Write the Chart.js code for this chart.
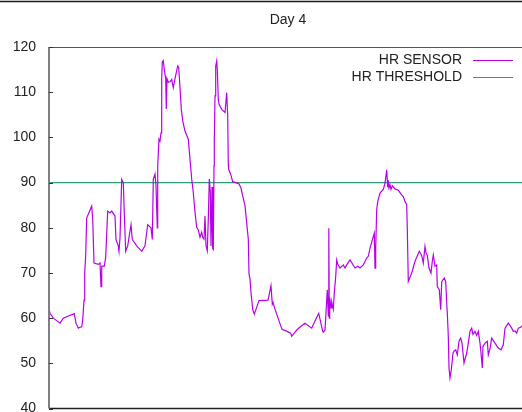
<!DOCTYPE html>
<html>
<head>
<meta charset="utf-8">
<title>Day 4</title>
<script src="https://cdn.jsdelivr.net/npm/chart.js@4/dist/chart.umd.min.js"></script>
<style>
  html, body { margin: 0; padding: 0; background: #fff; overflow: hidden; }
  #wrap { position: relative; width: 560px; height: 430px; }
</style>
</head>
<body>
<div id="wrap"><canvas id="c" width="560" height="430"></canvas></div>
<script>
// Heart-rate trace for day 4 (time in sample units, beats per minute)
const time = [
  0, 1, 4.3, 11, 14.3, 19.3, 25.3, 27, 29.3, 31, 32.7, 33.7, 35, 35.7, 36.7, 37.7, 39.3, 42.7, 43.7, 45,
  49.3, 51, 52, 52.7, 55.3, 56.7, 58.7, 61, 62.7, 66, 67, 69.3, 70, 71, 72.7, 74.3, 75.3, 76.7, 78.7, 82,
  83.3, 87.7, 92.7, 96, 98.7, 102, 103.3, 104.3, 106, 107, 108.3, 108.7, 110, 111, 112, 112.7, 113.3, 114.3, 115.3, 116.7,
  117.3, 118, 119.3, 121, 122.7, 124.3, 126, 128.7, 129.7, 131, 132.3, 134, 136, 139.3, 141, 142.7, 144.3, 146, 147.7, 149.3,
  151, 152.7, 153.7, 155, 156, 157, 158.3, 159.3, 160.3, 161.3, 162, 163, 163.7, 164, 164.3, 165, 165.3, 166, 166.7, 167.7,
  168.3, 169.3, 170, 172.7, 176, 177.7, 178.7, 179.3, 179.6, 181.7, 183.7, 186.7, 190, 192, 193.3, 196, 199.3, 200, 201, 202,
  203.7, 205.3, 207.7, 210, 219, 222, 223.3, 224, 226, 232.7, 233.3, 236, 241.7, 242.7, 246, 248.3, 252, 256, 262.7, 266.7,
  269.7, 273.7, 274.3, 276, 278.3, 279.3, 279.8, 280.3, 280.7, 282, 282.7, 284.3, 285.3, 286.7, 287.7, 288.7, 291, 294.3, 296, 297.7,
  301, 306, 308.7, 311, 314.3, 317.7, 319.3, 321, 325.3, 326, 326.7, 327.7, 328.7, 331, 334.3, 336, 337.7, 338.7, 339.3, 340,
  341, 342, 343.3, 346, 349.3, 352.7, 354.3, 356, 357.7, 358.3, 359.3, 362.7, 366, 370.3, 372.7, 374.3, 376, 377, 378.3, 380,
  382, 383.3, 384.3, 386, 387.7, 388.3, 390.3, 391.7, 392.7, 395.3, 396.7, 397.7, 398.3, 399.3, 400, 401, 402.3, 404, 405, 406.7,
  408.3, 410, 411.7, 413, 415, 417.7, 419.3, 421, 422.7, 424, 426, 427.7, 429.3, 431, 432, 433.3, 434, 436, 438.3, 439.3,
  441, 442.7, 446, 449.3, 452, 454.3, 456, 459.3, 462.7, 464.3, 466, 467.7, 469.3, 471.7, 473, 476, 481
];
const hr = [
  62.2, 61.1, 60.0, 58.9, 60.0, 60.5, 61.0, 58.9, 57.8, 58.0, 58.1, 59.6, 64.0, 70.0, 74.0, 82.2, 83.0, 84.8, 82.0, 72.2,
  71.9, 72.2, 67.0, 71.5, 71.5, 73.5, 83.7, 83.3, 83.7, 82.6, 77.4, 76.0, 74.8, 77.8, 90.7, 90.0, 83.0, 74.8, 76.0, 80.7,
  77.4, 76.0, 74.8, 76.0, 80.7, 80.0, 77.4, 90.7, 91.9, 89.3, 80.0, 93.7, 99.6, 99.2, 101.0, 113.0, 116.7, 117.0, 115.0, 113.0,
  106.3, 113.0, 112.2, 112.3, 112.8, 111.0, 113.0, 115.8, 115.5, 111.0, 106.2, 103.3, 101.4, 99.6, 95.2, 90.8, 87.8, 83.4, 80.1, 79.5,
  77.9, 79.0, 77.9, 77.5, 82.6, 76.0, 74.9, 82.0, 90.8, 88.0, 76.0, 89.0, 75.3, 80.0, 75.0, 93.7, 98.9, 109.2, 115.8, 116.9,
  115.0, 108.4, 107.3, 106.2, 105.5, 109.9, 104.8, 94.1, 93.0, 91.8, 90.2, 90.0, 89.7, 88.8, 87.4, 84.9, 77.5, 69.8, 68.7, 65.7,
  62.0, 60.9, 62.4, 63.9, 64.0, 67.2, 63.1, 63.5, 62.0, 57.7, 57.5, 57.3, 56.7, 56.0, 56.9, 57.5, 58.2, 58.9, 57.8, 59.7,
  61.1, 57.1, 56.9, 57.4, 66.3, 60.5, 79.9, 60.0, 64.5, 62.3, 63.6, 62.0, 65.6, 69.2, 72.9, 72.0, 71.1, 71.8, 71.1, 71.8,
  72.9, 71.1, 71.5, 71.1, 71.8, 73.3, 73.7, 75.5, 78.8, 71.1, 75.5, 84.0, 85.8, 87.7, 88.5, 89.9, 92.8, 89.0, 90.5, 88.8,
  89.5, 88.5, 89.3, 88.6, 88.3, 87.3, 86.9, 85.8, 85.1, 79.9, 68.1, 70.0, 72.6, 74.8, 73.9, 72.2, 75.9, 74.5, 73.9, 71.1,
  70.0, 72.6, 74.0, 71.5, 71.8, 67.0, 66.3, 61.9, 68.1, 68.9, 68.1, 63.4, 61.2, 56.0, 49.0, 46.8, 48.6, 52.3, 52.7, 53.0,
  51.9, 54.9, 55.6, 54.5, 50.1, 52.3, 54.5, 57.1, 57.8, 56.4, 57.1, 56.2, 57.1, 54.5, 52.3, 49.0, 53.8, 54.5, 54.9, 51.9,
  53.3, 55.6, 54.5, 53.4, 53.0, 54.1, 57.8, 58.9, 57.8, 57.1, 57.2, 56.7, 57.8, 58.0, 58.3, 58.6, 58.4
];
const thresholdValue = 90;
const yTickValues = [40, 50, 60, 70, 80, 90, 100, 110, 120];
const titleText = 'Day 4';
const seriesNames = ['HR SENSOR', 'HR THRESHOLD'];
const seriesColors = ['#b800ea', '#2f9c78'];

const xMax = 500;
const sensorPoints = time.map((t, i) => ({ x: t, y: hr[i] }));
const thresholdPoints = [{ x: 0, y: thresholdValue }, { x: xMax, y: thresholdValue }];

const FONT = '"Liberation Sans", Arial, sans-serif';

// Frame, inward ticks, title and key drawn around the plot area
const decorations = {
  id: 'decorations',
  afterDraw(chart) {
    const ctx = chart.ctx;
    const a = chart.chartArea;
    const ys = chart.scales.y;
    ctx.save();
    // rule across the top of the page
    ctx.strokeStyle = '#1a1a1a';
    ctx.lineWidth = 1.5;
    ctx.beginPath(); ctx.moveTo(0, 1.5); ctx.lineTo(chart.width, 1.5); ctx.stroke();
    // plot border
    ctx.strokeStyle = '#555';
    ctx.lineWidth = 1;
    ctx.beginPath(); ctx.moveTo(a.left, a.top + 0.5); ctx.lineTo(a.right, a.top + 0.5); ctx.stroke();
    ctx.strokeStyle = '#222';
    ctx.lineWidth = 1.5;
    ctx.beginPath(); ctx.moveTo(a.left, a.bottom); ctx.lineTo(a.right, a.bottom); ctx.stroke();
    ctx.strokeStyle = '#808080';
    ctx.lineWidth = 2;
    ctx.beginPath(); ctx.moveTo(a.left, a.top); ctx.lineTo(a.left, a.bottom); ctx.stroke();
    // inward tick marks on the left axis
    ctx.strokeStyle = '#333';
    ctx.lineWidth = 1;
    yTickValues.forEach(v => {
      const py = Math.round(ys.getPixelForValue(v)) + 0.5;
      ctx.beginPath(); ctx.moveTo(a.left, py); ctx.lineTo(a.left + 4, py); ctx.stroke();
    });
    // title
    ctx.fillStyle = '#222';
    ctx.font = '14px ' + FONT;
    ctx.textAlign = 'center';
    ctx.textBaseline = 'middle';
    ctx.fillText(titleText, 288, 20);
    // key
    ctx.textAlign = 'right';
    seriesNames.forEach((name, i) => {
      const y = 60 + i * 17;
      ctx.fillStyle = '#222';
      ctx.fillText(name, 462, y);
      ctx.strokeStyle = seriesColors[i];
      ctx.lineWidth = 1.2;
      ctx.beginPath(); ctx.moveTo(473, y + 0.5); ctx.lineTo(513, y + 0.5); ctx.stroke();
    });
    ctx.restore();
  }
};

new Chart(document.getElementById('c'), {
  type: 'line',
  data: {
    datasets: [
      {
        label: seriesNames[0],
        data: sensorPoints,
        borderColor: seriesColors[0],
        borderWidth: 1.2,
        pointRadius: 0,
        tension: 0,
        order: 1
      },
      {
        label: seriesNames[1],
        data: thresholdPoints,
        borderColor: seriesColors[1],
        borderWidth: 1.2,
        pointRadius: 0,
        tension: 0,
        order: 2
      }
    ]
  },
  options: {
    responsive: false,
    animation: false,
    events: [],
    layout: { padding: { top: 47, right: 11, bottom: 21, left: 0 } },
    plugins: { legend: { display: false }, title: { display: false }, tooltip: { enabled: false } },
    scales: {
      x: {
        type: 'linear',
        min: 0,
        max: xMax,
        display: false
      },
      y: {
        type: 'linear',
        min: 40,
        max: 120,
        afterFit(scale) { scale.width = 49; },
        afterBuildTicks(scale) { scale.ticks = yTickValues.map(v => ({ value: v })); },
        grid: { display: false, drawTicks: false },
        border: { display: false },
        ticks: {
          padding: 13,
          color: '#222',
          font: { family: FONT, size: 14 }
        }
      }
    }
  },
  plugins: [decorations]
});
</script>
</body>
</html>
